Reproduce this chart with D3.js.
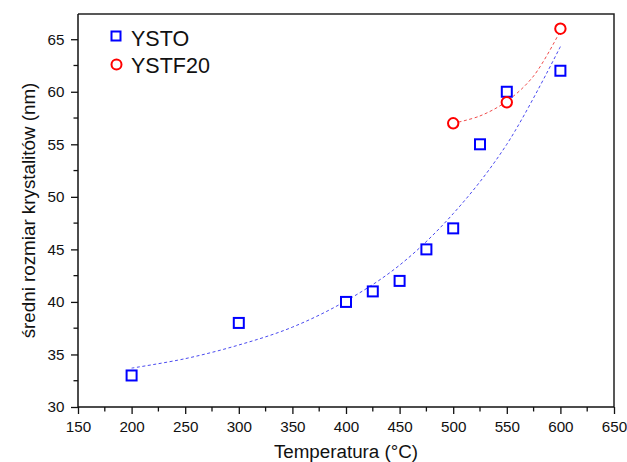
<!DOCTYPE html>
<html><head><meta charset="utf-8">
<script src="https://cdn.jsdelivr.net/npm/d3@7"></script>
<style>body{margin:0;background:#fff}svg{display:block}text{font-family:"Liberation Sans",Arial,sans-serif;fill:#111}</style>
</head><body>
<svg id="c" width="627" height="462"></svg>
<script>
// Data
const ystoTemp = [200, 300, 400, 425, 450, 475, 500, 525, 550, 600];
const ystoSize = [33, 38, 40, 41, 42, 45, 47, 55, 60, 62];
const ystfTemp = [500, 550, 600];
const ystfSize = [57, 59, 66];
// Fitted trend curves (dashed)
const ystoFitTemp = [200, 250, 300, 350, 400, 450, 500, 550, 600];
const ystoFitSize = [33.7, 34.6, 35.9, 37.6, 40.1, 43.5, 48.4, 55.0, 64.3];
const ystfFitTemp = [500, 525, 550, 575, 600];
const ystfFitSize = [57.0, 57.7, 59.1, 61.5, 65.8];
const xTicks = [150, 200, 250, 300, 350, 400, 450, 500, 550, 600, 650];
const yTicks = [30, 35, 40, 45, 50, 55, 60, 65];
const xMinor = [175, 225, 275, 325, 375, 425, 475, 525, 575, 625];
const yMinor = [32.5, 37.5, 42.5, 47.5, 52.5, 57.5, 62.5];
const seriesNames = ["YSTO", "YSTF20"];
const xTitle = "Temperatura (°C)";
const yTitle = "średni rozmiar krystalitów (nm)";

const W = 627, H = 462;
const m = {l: 78, r: 13, t: 14, b: 55};
const svg = d3.select("#c");
const x = d3.scaleLinear().domain([150, 650]).range([m.l, W - m.r]);
const y = d3.scaleLinear().domain([30, 67.4]).range([H - m.b, m.t]);
const BLUE = "#0000ff", RED = "#ff0000";

// frame (top/right)
svg.append("path")
  .attr("d", `M${m.l},${m.t}H${W - m.r}V${H - m.b}`)
  .attr("fill", "none").attr("stroke", "#222").attr("stroke-width", 1.5);

// x axis
const gx = svg.append("g").attr("transform", `translate(0,${H - m.b})`);
gx.call(d3.axisBottom(x).tickValues(xTicks).tickSize(7).tickPadding(7.5).tickFormat(d3.format("d")));
gx.append("g").selectAll("line").data(xMinor).join("line")
  .attr("x1", d => x(d)).attr("x2", d => x(d)).attr("y1", 0).attr("y2", 4.5)
  .attr("stroke", "#111").attr("stroke-width", 1.3);
// y axis
const gy = svg.append("g").attr("transform", `translate(${m.l},0)`);
gy.call(d3.axisLeft(y).tickValues(yTicks).tickSize(7).tickPadding(6.5).tickFormat(d3.format("d")));
gy.append("g").selectAll("line").data(yMinor).join("line")
  .attr("y1", d => y(d)).attr("y2", d => y(d)).attr("x1", 0).attr("x2", -4.5)
  .attr("stroke", "#111").attr("stroke-width", 1.3);
[gx, gy].forEach(g => {
  g.select(".domain").attr("stroke", "#111").attr("stroke-width", 1.5);
  g.selectAll(".tick line").attr("stroke", "#111").attr("stroke-width", 1.3);
  g.selectAll(".tick text").attr("font-size", 15.2).attr("fill", "#111")
    .attr("font-family", '"Liberation Sans",Arial,sans-serif');
});
gy.select(".domain").attr("d", `M0,${H - m.b}V${m.t}`);
gx.select(".domain").attr("d", `M${m.l},0H${W - m.r}`);

// titles
svg.append("text").attr("x", (m.l + W - m.r) / 2).attr("y", 457.5)
  .attr("text-anchor", "middle").attr("font-size", 18.8).text(xTitle);
svg.append("text").attr("transform", `translate(35,${(m.t + H - m.b) / 2}) rotate(-90)`)
  .attr("text-anchor", "middle").attr("font-size", 18.8).text(yTitle);

// fit curves
const line = d3.line().x(d => x(d[0])).y(d => y(d[1])).curve(d3.curveCatmullRom);
svg.append("path").datum(d3.zip(ystoFitTemp, ystoFitSize)).attr("d", line)
  .attr("fill", "none").attr("stroke", "#4a4af0").attr("stroke-width", 1).attr("stroke-dasharray", "3,2.5");
svg.append("path").datum(d3.zip(ystfFitTemp, ystfFitSize)).attr("d", line)
  .attr("fill", "none").attr("stroke", "#f04a4a").attr("stroke-width", 1).attr("stroke-dasharray", "3,2.5");

// markers
const S = 10;
svg.append("g").selectAll("rect").data(d3.zip(ystoTemp, ystoSize)).join("rect")
  .attr("x", d => x(d[0]) - S / 2).attr("y", d => y(d[1]) - S / 2)
  .attr("width", S).attr("height", S)
  .attr("fill", "#fff").attr("stroke", BLUE).attr("stroke-width", 2);
svg.append("g").selectAll("circle").data(d3.zip(ystfTemp, ystfSize)).join("circle")
  .attr("cx", d => x(d[0])).attr("cy", d => y(d[1])).attr("r", 5.2)
  .attr("fill", "#fff").attr("stroke", RED).attr("stroke-width", 2);

// legend
const lg = svg.append("g");
lg.append("rect").attr("x", 116 - S / 2 + 0.5).attr("y", 36.5 - S / 2)
  .attr("width", S - 1).attr("height", S - 1)
  .attr("fill", "#fff").attr("stroke", BLUE).attr("stroke-width", 2);
lg.append("circle").attr("cx", 116.5).attr("cy", 64.5).attr("r", 5)
  .attr("fill", "#fff").attr("stroke", RED).attr("stroke-width", 2);
lg.append("text").attr("x", 131).attr("y", 45.5).attr("font-size", 21.5).text(seriesNames[0]);
lg.append("text").attr("x", 131).attr("y", 72.5).attr("font-size", 21.5).text(seriesNames[1]);
</script>
</body></html>
